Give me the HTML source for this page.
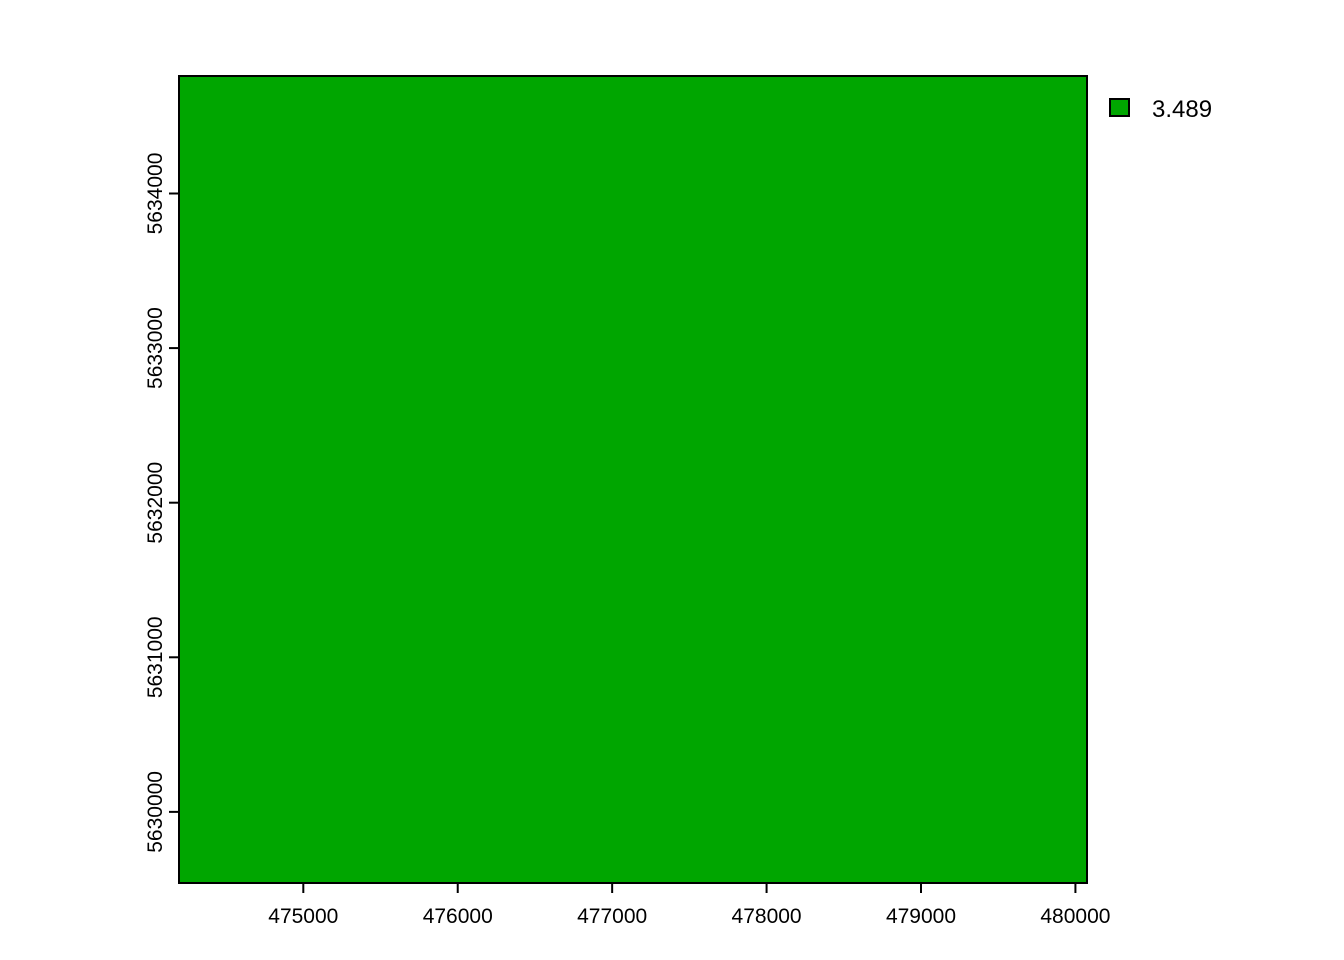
<!DOCTYPE html>
<html><head><meta charset="utf-8"><style>
html,body{margin:0;padding:0;background:#fff;}
svg{display:block;font-family:"Liberation Sans",Arial,sans-serif;}
</style></head><body>
<svg id="chart" width="1344" height="960"></svg>
<script>
const xTicks=[475000,476000,477000,478000,479000,480000];
const yTicks=[5630000,5631000,5632000,5633000,5634000];
const legendValues=["3.489"];
const legendColors=["#00A600"];
const xDomain=[474195,480075];
const yDomain=[5629540,5634760];
const L=179,R=1087,T=76,B=883;
const xS=v=>L+(v-xDomain[0])/(xDomain[1]-xDomain[0])*(R-L);
const yS=v=>B-(v-yDomain[0])/(yDomain[1]-yDomain[0])*(B-T);
const NS="http://www.w3.org/2000/svg";
const svg=document.getElementById('chart');
function mk(t,a,p){const e=document.createElementNS(NS,t);for(const k in a)e.setAttribute(k,a[k]);(p||svg).appendChild(e);return e;}
const r=mk('rect',{x:L,y:T,width:R-L,height:B-T,fill:legendColors[0],stroke:'#000','stroke-width':2});


xTicks.forEach(v=>{const x=xS(v);
const l=mk('line',{x1:x,x2:x,y1:B,y2:B+10,stroke:'#000','stroke-width':2});


const t=mk('text',{x:x,y:923,'text-anchor':'middle','font-size':21});t.textContent=v;

});
yTicks.forEach(v=>{const y=yS(v);
const l=mk('line',{x1:L-10,x2:L,y1:y,y2:y,stroke:'#000','stroke-width':2});


const t=mk('text',{x:162,y:y,'text-anchor':'middle','font-size':21,transform:`rotate(-90 162 ${y})`});t.textContent=v;

});
legendValues.forEach((v,i)=>{const y=99+i*30;
const s=mk('rect',{x:1110,y:y,width:19,height:17,fill:legendColors[i],stroke:'#000','stroke-width':2});


const t=mk('text',{x:1152,y:y+18,'font-size':24});t.textContent=v;

});
</script>
</body></html>
